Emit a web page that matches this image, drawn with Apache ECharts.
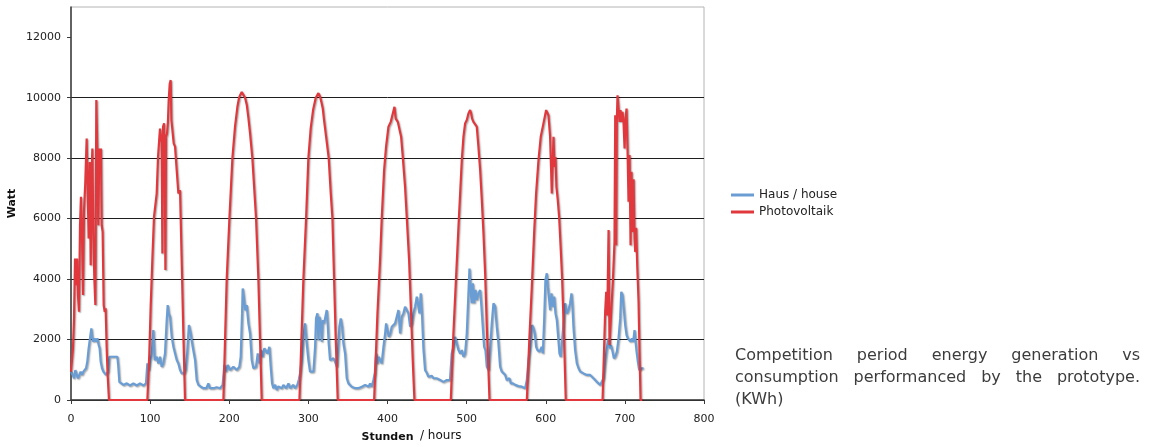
<!DOCTYPE html>
<html>
<head>
<meta charset="utf-8">
<script src="https://cdn.jsdelivr.net/npm/echarts@6/dist/echarts.min.js"></script>
<style>
html,body{margin:0;padding:0;background:#fff;}
#chart{width:1155px;height:447px;}
</style>
</head>
<body>
<div id="chart"></div>
<script>
// ---- data (hour, watt) ----
const yTicks = [0, 2000, 4000, 6000, 8000, 10000, 12000];
const seriesNames = ['Haus / house', 'Photovoltaik'];

const house = [
[0,940],[2.1,830],[3.8,720],[5.5,990],[7.2,830],[8.8,720],[10.5,780],[12.2,940],[13.9,830],[15.6,940],[17.3,990],[19,1050],[20.6,1270],[22.3,1710],[24,2040],[25.7,2370],[27,2040],[28.2,1930],[29.9,2040],[31.6,1930],[33.3,2040],[35,1820],[36.2,1710],[37.5,1270],[39.2,1050],[40.9,940],[42.6,880],[44.2,830],[45.5,880],[46.8,940],[48.5,1430],[50.1,1490],[51.8,1430],[53.5,1490],[55.2,1430],
[58.6,1430],[59.8,1100],[61.1,600],[62.8,550],[66.2,500],[70.4,550],[74.6,480],[78.8,550],[83,480],[87.2,550],[91.5,480],[94.8,550],[96.5,1210],[98.2,990],[99.9,1320],[102,1500],[104.1,2310],[105.8,1320],[108.3,1430],[110.4,1210],[112.5,1430],[114.6,1100],[116.7,1210],[118.8,1540],[121,2645],[122.2,3140],[123.5,2865],[125.2,2750],[127.3,2090],[129.4,1760],[131.5,1540],[133.6,1320],[135.7,1210],[137.8,990],[140,880],[142.9,880],
[145,1000],[147,1600],[149,2480],[151.3,2200],[153.8,1760],[156.8,1320],[158.9,660],[161,500],[164,440],[167.3,390],[171,390],[173.6,550],[175.5,390],[180,390],[184,420],[188.4,390],[191.7,500],[193.8,1160],[196,940],[198.1,1160],[201,990],[205.2,1100],[209.4,990],[212.8,1100],[214.5,1430],[216.2,2865],[217,3690],[218.3,3420],[220,2975],[222.1,3140],[224.2,2535],[226.3,2200],[228.4,1320],[230.5,1050],[233.9,1100],[236,1540],[238.1,1210],[240.2,1650],[242.3,1430],[244.4,1710],[246.1,1710],[248.2,1540],[250.7,1760],[252.4,1100],[254.1,550],[255.8,390],[258,500],[260,330],[262,450],[264.2,500],[266.3,390],[268.4,500],[271.8,390],[274.8,550],[277,390],[281.1,500],[283.2,390],[286.1,500],[287.8,660],
[289.5,880],[291.6,1320],[293.7,2090],[295.8,2535],[297.9,1870],[300,1320],[302.1,940],[304.2,880],[306.4,940],[308.5,1760],[309.7,2700],[311.4,2865],[312.7,1980],[313.9,2755],[315.6,2535],[316.9,1930],[318.2,2645],[319.8,2535],[321.5,2755],[323.2,2975],[324.4,2535],[325.7,1870],[327.4,1320],[329.5,1270],[331.6,1380],[333.7,1270],[335.9,1100],[337.5,1650],[339.2,2425],[340.9,2700],[342.6,2425],[344.3,1870],[346.4,1540],[348.5,720],[350.6,550],[354.8,440],[359,390],[363,390],[367.5,440],[371.7,500],[373.8,550],[376,440],[378,550],[380,440],[382.2,660],[384,900],
[385.6,1540],[387.3,1210],[389,1430],[390.6,1320],[392.7,1210],[394.9,1760],[397,2200],[398.2,2535],[399.9,2310],[401.6,2090],[403.5,2200],[405.4,2425],[407.5,2425],[409.6,2535],[411.7,2755],[413.8,2975],[415.9,2200],[418,2755],[420.1,2865],[422.2,3085],[424.3,2975],[426.5,2865],[428.6,2425],[430.7,2535],[432.8,2865],[434.9,3085],[437,3420],[439.1,3470],[440.4,2865],[442,3530],[443.5,2900],[445.4,1700],[447.5,990],[449.6,900],[451.7,770],[454,830],[456,800],[458,720],[462,720],[466.5,660],[470.7,600],[472.8,550],[475,660],[477,600],[479,660],
[481.2,1540],[483.3,1760],[485.4,2090],[487.5,2090],[489.7,1650],[491.8,1540],[493.9,1650],[496,1430],[498.1,1540],[500.2,2200],[502.3,3530],[503.6,4350],[505.3,3530],[506.5,3200],[507.8,3860],[509.5,3200],[511.2,3640],[512.8,3310],[515,3530],[517.1,3640],[518.7,3090],[520.4,2425],[522.1,1760],[523.8,1650],[525.5,1100],[527.6,990],[529.7,1650],[531.8,2535],[533.9,3200],[536,3090],[538.1,2425],[540.2,1870],[542.3,1100],[544.4,940],[546.5,880],[548.7,830],[550.8,660],[552.9,600],[554.1,720],[555.8,550],[558.5,550],[561.3,500],[565.5,460],[569.7,440],[574,390],
[576.1,660],[578.2,1320],[580.3,1760],[582.8,2480],[584.5,2370],[586.2,2200],[587.8,1760],[589.5,1650],[592.1,1600],[595,1760],[596.3,1540],[598,2645],[599.6,3970],[601.3,4190],[602.6,3750],[603.9,3420],[605.5,2975],[607.2,3530],[608.9,3090],[610.6,3420],[612.3,2865],[614,2645],[615.7,2090],[617.3,1540],[619,1430],[621,1430],[623.2,2755],[624.5,3200],[626.6,2865],[628.7,2975],[630.8,3200],[632.5,3530],[633.8,3090],[635,2425],[637.1,1650],[639.3,1210],[641.4,1050],[643.5,940],[647.7,880],[651.9,830],[656.1,830],[660.3,720],[664.5,600],[666.7,550],[668.8,500],[671,500],
[673,720],[675.1,1270],[677.2,1710],[679.4,2040],[681,1710],[682.7,1800],[684.4,1600],[686.1,1380],[688,1450],[689.9,1600],[692,2040],[694.1,2700],[695.4,3580],[697,3470],[698.7,3000],[700.4,2480],[702.1,2150],[703.8,2040],[705.5,2040],[707.2,1930],[708.9,2040],[710.5,1930],[712.2,2310],[713.1,2040],[714.8,1600],[716.4,1270],[718.1,990],[719.8,990],[721.5,1050],[723.6,1050]
];

const pv = [
[0,940],[2.5,1710],[3.8,2700],[5.1,4680],[6.3,3800],[7.6,4680],[8.8,3470],[10.1,2920],[11.4,5780],[12.6,6720],[13.9,5450],[15.2,3470],[16.4,6230],[18.1,7220],[19.8,8650],[21.1,8650],[22.3,5340],[23.6,7870],[24.9,4460],[26.1,7550],[27,8320],[28.2,5560],[29.5,4020],[30.8,3140],[32,9920],[33.3,8210],[34.5,5780],[35.8,8320],[37.1,7770],[37.9,8320],[38.8,5780],[40,5560],[41.3,3140],[42.6,2920],[43.8,3030],[45.1,1710],[46.3,830],[48,0],
[96.5,0],[99,1540],[100.7,3090],[102.8,4630],[104.9,6060],[108.3,6830],[110,8040],[111.7,8700],[112.5,8980],[113.8,9040],[114.6,8500],[115.5,4850],[116.3,9040],[117.6,9150],[118.5,8000],[119.3,4300],[120.1,8700],[121.4,8820],[122.5,9200],[123.5,9920],[124.8,10470],[126,10580],[126.9,9260],[128.1,9200],[129.8,8490],[131.5,8380],[133.6,7600],[135.7,6830],[137.8,6940],[140,4500],[142,2200],[144.1,0],
[192.6,0],[194.7,2000],[196.8,4000],[200.2,6000],[204,8000],[207.3,9040],[210.3,9700],[212.4,10000],[214,10100],[215.8,10190],[217.9,10140],[220,10000],[222.1,9770],[224.2,9330],[226.3,8820],[229.2,8000],[233.9,6000],[236.8,4000],[238.9,2000],[241,0],
[288.7,0],[291.2,2000],[293.7,4000],[297.1,6000],[300,8000],[303,9000],[306,9600],[309.3,10000],[312.7,10150],[314.8,10030],[316.5,9850],[318.2,9640],[319.8,9260],[322.4,8710],[325.7,8000],[328.3,6830],[330.4,6000],[332.5,4000],[334.6,2000],[337.1,0],
[383.1,0],[387.3,2865],[390.6,4630],[392.7,6000],[395.7,7600],[398.2,8380],[401.2,9040],[404.1,9200],[406.7,9480],[408.8,9700],[410.4,9310],[411.7,9370],[413,9200],[415.1,9200],[417.2,8710],[419.3,8040],[422.2,7050],[424.3,6060],[427.3,4630],[429.8,2865],[431.9,1320],[434,0],
[480,0],[483.3,2200],[486.7,4080],[489.7,5730],[491.8,6830],[493.9,7930],[496,8710],[498.1,9150],[500.2,9260],[502.3,9480],[504.4,9590],[505.7,9480],[506.9,9310],[508.6,9200],[510.7,9150],[512.8,9040],[514.9,8380],[517.1,7600],[519.2,6610],[521.3,5510],[523.4,4190],[525.5,2425],[527.6,990],[528.9,0],
[576.1,0],[579.4,2090],[582.4,3750],[585.3,5510],[587.8,6830],[590.8,7930],[593.7,8710],[597.1,9150],[600.5,9590],[601.3,9590],[603.4,9420],[605.5,8710],[606.8,7600],[607.6,6830],[608.9,7930],[609.8,8710],[611,7710],[612.3,8040],[613.5,7050],[615.2,6610],[616.9,6060],[619,4960],[620.7,4010],[622,2975],[623.2,2000],[625.3,0],
[671.8,0],[675.1,2920],[676.4,3580],[677.8,2800],[679.4,5620],[680.6,1820],[682.3,2700],[684.8,3910],[686.9,5230],[687.8,9420],[689,5120],[689.9,9310],[690.7,10080],[692,9640],[693.3,9200],[694.5,9590],[695.8,9200],[697,9530],[698.3,9200],[699.6,8320],[700.8,9300],[702.1,9640],[703.3,8400],[704.6,6560],[705.9,8100],[707.2,5120],[708.4,7550],[709.7,5560],[711,7300],[712.2,5340],[713.1,4900],[714.3,5700],[715.6,4460],[717.3,3250],[718.5,1600],[719.8,0],[722,0]
];

const captionLines = [
  ['Competition', 'period', 'energy', 'generation', 'vs'],
  ['consumption', 'performanced', 'by', 'the', 'prototype.'],
  ['(KWh)']
];

// ---- caption layout (justified like the reference) ----
const capFont = '16px "DejaVu Sans"';
const ctx = document.createElement('canvas').getContext('2d');
ctx.font = capFont;
const capLeft = 735, capRight = 1140, capTop = 357, capLine = 22;
const captionGraphics = [];
captionLines.forEach((words, li) => {
  const widths = words.map(w => ctx.measureText(w).width);
  const total = widths.reduce((a, b) => a + b, 0);
  const justify = li < captionLines.length - 1 && words.length > 1;
  const gap = justify ? (capRight - capLeft - total) / (words.length - 1) : ctx.measureText(' ').width;
  let x = capLeft;
  words.forEach((w, wi) => {
    captionGraphics.push({
      type: 'text', left: x, top: capTop + li * capLine - 9, silent: true,
      style: { text: w, font: capFont, fill: '#3c3c3c' }
    });
    x += widths[wi] + gap;
  });
});

const chart = echarts.init(document.getElementById('chart'), null, { renderer: 'canvas' });
const shadow = { shadowColor: 'rgba(0,0,0,0.35)', shadowBlur: 1.5, shadowOffsetX: 1, shadowOffsetY: 1 };

chart.setOption({
  animation: false,
  backgroundColor: '#ffffff',
  textStyle: { fontFamily: '"DejaVu Sans", Verdana, sans-serif' },
  grid: { left: 71, right: 451, top: 7, bottom: 47, outerBoundsMode: 'none', containLabel: false,
    show: true, borderColor: '#b4b4b4', borderWidth: 1, backgroundColor: 'transparent' },
  legend: {
    orient: 'vertical', left: 731, top: 189, padding: 0, icon: 'rect', itemWidth: 23, itemHeight: 3, itemGap: 5,
    textStyle: { fontSize: 12, color: '#222' },
    data: seriesNames
  },
  xAxis: {
    type: 'value', min: 0, max: 800, interval: 100,
    name: 'Stunden', nameLocation: 'middle', nameGap: 32, nameMoveOverlap: false,
    nameTextStyle: { fontWeight: 'bold', fontSize: 11, color: '#111' },
    axisLine: { show: true, onZero: false, lineStyle: { color: '#3a3a3a', width: 1.5 } },
    axisTick: { show: true, length: 4, inside: false, lineStyle: { color: '#3a3a3a' } },
    axisLabel: { fontSize: 11, color: '#222', margin: 14 },
    splitLine: { show: false }
  },
  yAxis: {
    type: 'value', min: 0, max: 13000, interval: 2000,
    name: 'Watt', nameLocation: 'middle', nameGap: 53, nameMoveOverlap: false,
    nameTextStyle: { fontWeight: 'bold', fontSize: 11, color: '#111' },
    axisLine: { show: true, lineStyle: { color: '#3a3a3a', width: 1.5 } },
    axisTick: { show: true, length: 4, inside: false, customValues: yTicks, lineStyle: { color: '#3a3a3a' } },
    axisLabel: { fontSize: 11, color: '#222', margin: 10, customValues: yTicks,
      formatter: v => (yTicks.indexOf(v) >= 0 ? String(v) : '') },
    splitLine: { show: true, showMaxLine: false, lineStyle: { color: '#1e1e1e', width: 1 } }
  },
  graphic: [
    { type: 'text', left: 420, top: 430, silent: true,
      style: { text: '/ hours', font: '12px "DejaVu Sans"', fill: '#111' } }
  ].concat(captionGraphics),
  series: [
    { name: seriesNames[0], type: 'line', data: house, showSymbol: false, symbol: 'none',
      color: '#6a9dd4', lineStyle: Object.assign({ width: 2.2, color: '#6a9dd4' }, shadow) },
    { name: seriesNames[1], type: 'line', data: pv, showSymbol: false, symbol: 'none',
      color: '#e0383c', lineStyle: Object.assign({ width: 2.2, color: '#e0383c' }, shadow) }
  ]
});
</script>
</body>
</html>
